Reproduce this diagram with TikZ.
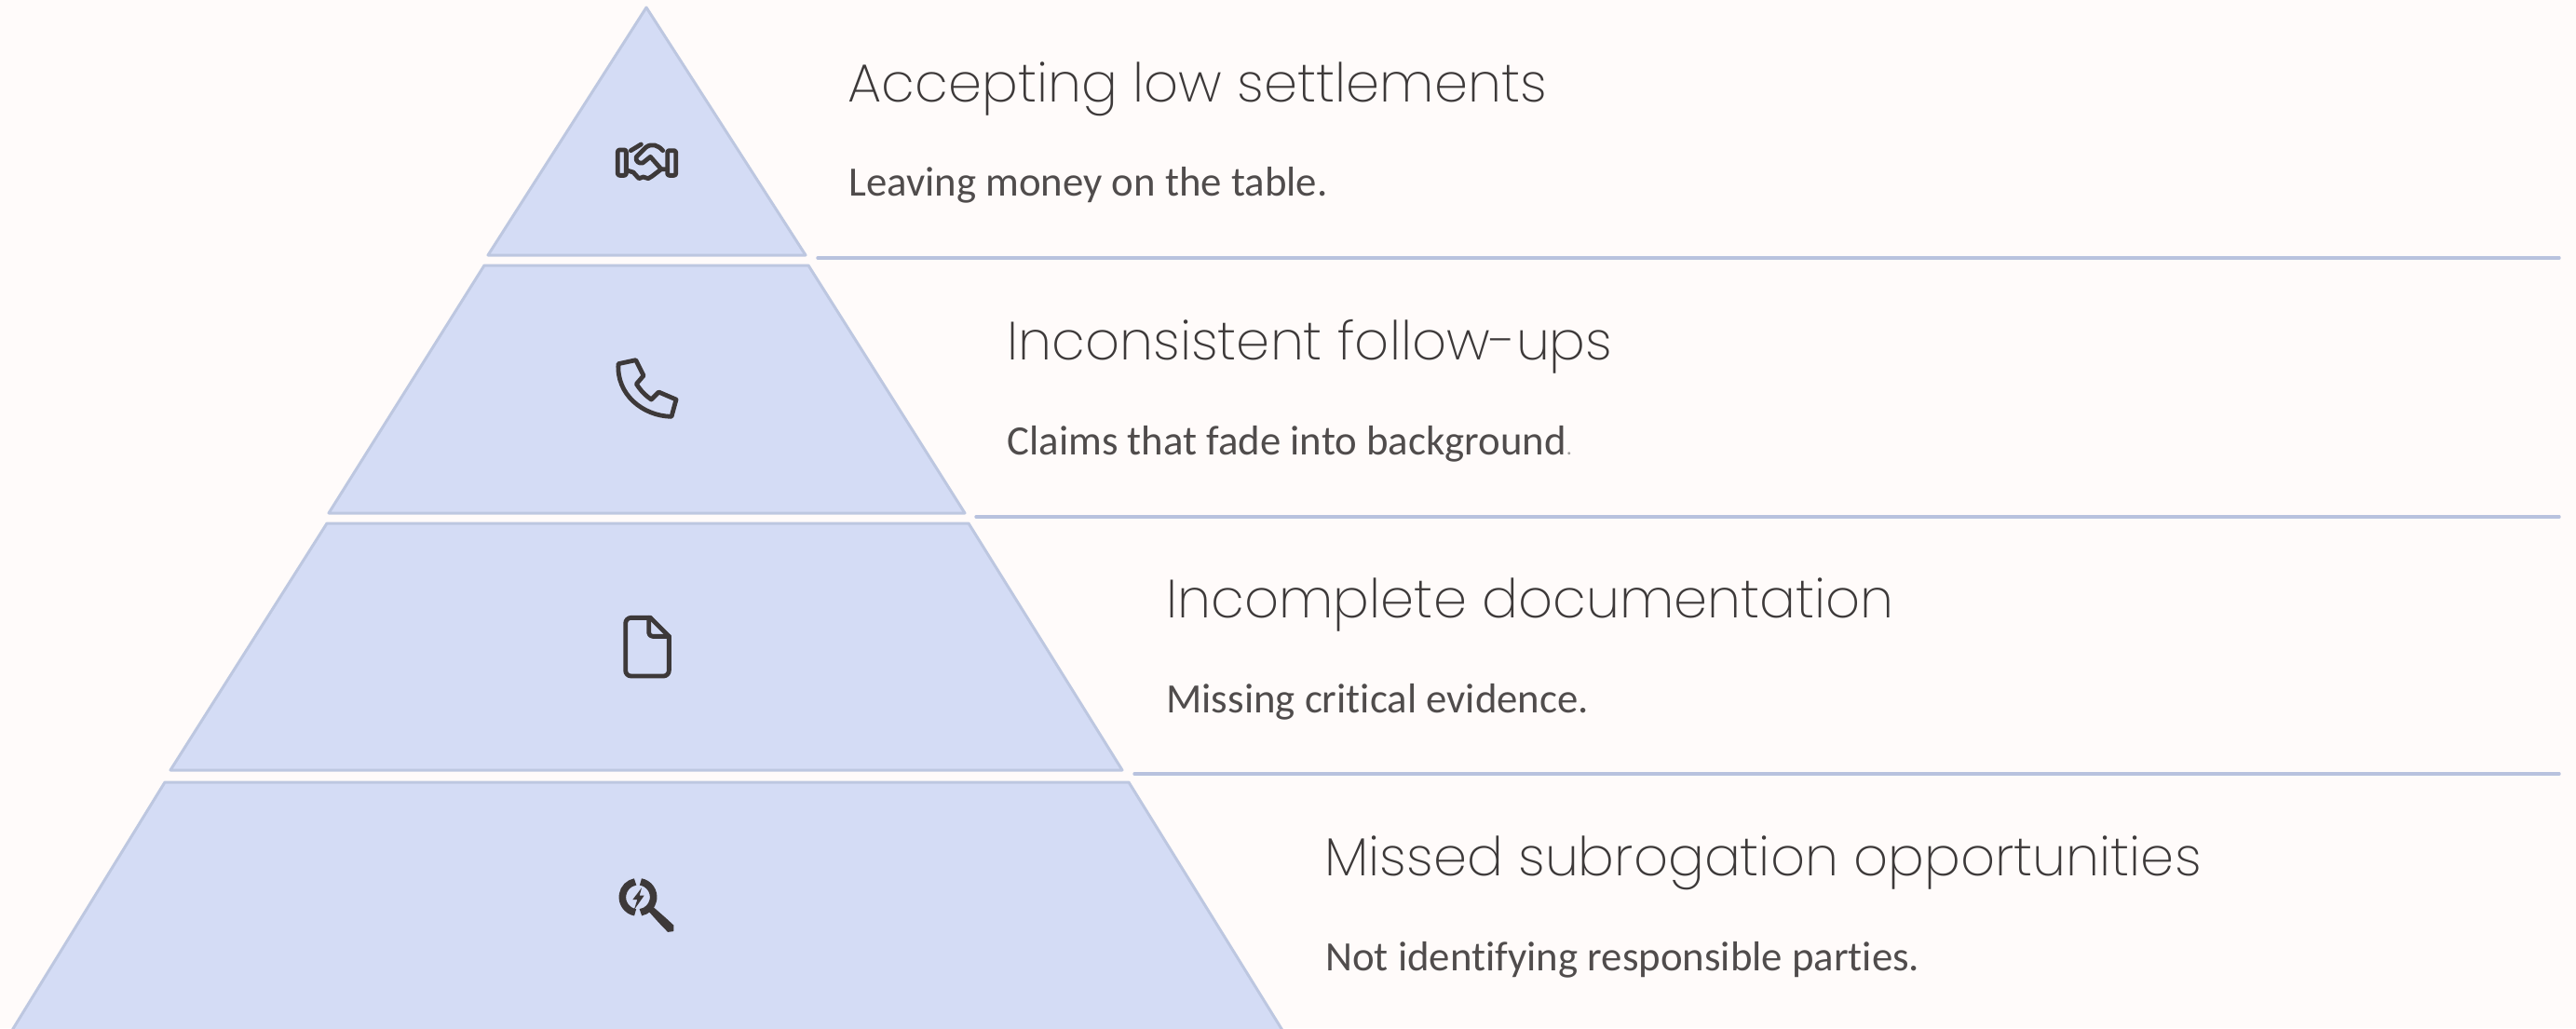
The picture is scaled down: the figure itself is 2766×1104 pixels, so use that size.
\documentclass[tikz,border=0pt]{standalone}
\usepackage{fontspec}
\setmainfont[Ligatures=NoCommon]{Carlito}
\newfontfamily\titlefont{Poppins ExtraLight}
\definecolor{bgc}{HTML}{FFFBFA}
\definecolor{tierfill}{HTML}{D4DCF5}
\definecolor{tierline}{HTML}{BDC7E0}
\definecolor{ruleline}{HTML}{B8C2DE}
\definecolor{inkc}{HTML}{3D3939}
\definecolor{bodyc}{HTML}{504C4C}
\tikzset{
  tier/.style={fill=tierfill,draw=tierline,line width=1.5pt,line join=round},
  rule/.style={draw=ruleline,line width=1.7pt,line cap=round},
  titletext/.style={anchor=base west,inner sep=0pt,text=inkc,font=\titlefont\fontsize{28.85}{34}\selectfont},
  bodytext/.style={anchor=base west,inner sep=0pt,text=bodyc,font=\fontsize{22.4}{27}\selectfont},
  icon/.style={draw=inkc,line width=2.4pt,line cap=round,line join=round,fill=none},
}
\begin{document}
\begin{tikzpicture}[x=0.5pt,y=-0.5pt]
\useasboundingbox (0,0) rectangle (2766,1104);
\fill[bgc] (0,0) rectangle (2766,1104);
\draw[tier] (694,8) -- (865,274) -- (524,274) -- cycle;
\draw[tier] (520,285) -- (868,285) -- (1036,551) -- (353,551) -- cycle;
\draw[tier] (351,562) -- (1040,562) -- (1205,827) -- (183,827) -- cycle;
\begin{scope}
\clip (0,0) rectangle (2766,1104);
\draw[tier] (177,840) -- (1212,840) -- (1378,1108) -- (12,1108) -- cycle;
\end{scope}
\coordinate (r1a) at (878,277); \coordinate (r1b) at (2748,277);
\coordinate (r2a) at (1048,555); \coordinate (r2b) at (2748,555);
\coordinate (r3a) at (1218,831); \coordinate (r3b) at (2748,831);
\draw[rule] (r1a) -- (r1b);
\draw[rule] (r2a) -- (r2b);
\draw[rule] (r3a) -- (r3b);
\node[titletext] (t1) at (910,109) {Accepting low settlements};
\node[bodytext] (b1) at (911,210) {Leaving money on the table.};
\node[titletext] (t2) at (1081,386) {Inconsistent follow-ups};
\node[bodytext] (b2) at (1081,488) {Claims that fade into background{\color{inkc!50}\fontsize{12}{14}\selectfont.}};
\node[titletext] (t3) at (1252,663) {Incomplete documentation};
\node[bodytext] (b3) at (1252,765) {Missing critical evidence.};
\node[titletext] (t4) at (1422,940) {Missed subrogation opportunities};
\node[bodytext] (b4) at (1423,1042) {Not identifying responsible parties.};
% handshake
\begin{scope}[shift={(640,140)},x=0.1667pt,y=-0.1667pt]
\draw[icon,rounded corners=1pt] (70,63) rectangle (97,145);
\draw[icon,rounded corners=1pt] (230,65) rectangle (257,145);
\draw[icon] (97,128) -- (120,135) -- (138,155) -- (152,150) -- (168,155) -- (180,148) -- (210,125) -- (230,125);
\draw[icon] (112,65) -- (145,45);
\draw[icon] (215,65) .. controls (200,48) and (180,40) .. (160,55) -- (130,85) .. controls (125,100) and (140,108) .. (150,105) -- (175,85) -- (210,125);
\end{scope}
% phone
\begin{scope}[shift={(620,360)},x=0.1667pt,y=-0.1667pt]
\draw[icon] (132,92) -- (188,80) -- (213,130) -- (190,157) .. controls (205,180) and (220,195) .. (238,207) -- (262,183) -- (318,207) -- (303,262) .. controls (210,260) and (125,190) .. cycle;
\end{scope}
% file
\begin{scope}[shift={(640,640)},x=0.1667pt,y=-0.1667pt]
\draw[icon,rounded corners=3pt] (175,70) -- (95,70) -- (95,258) -- (235,258) -- (235,130);
\draw[icon] (175,70) -- (235,130);
\draw[icon,rounded corners=2pt] (170,70) -- (170,130) -- (235,130);
\end{scope}
% search with bolt
\begin{scope}[shift={(640,930)},x=0.1667pt,y=-0.1667pt]
\draw[icon,line width=3.8pt,line cap=butt] (135,100) ++(100:50) arc (100:260:50);
\draw[icon,line width=3.8pt,line cap=butt] (135,100) ++(-80:50) arc (-80:80:50);
\fill[inkc] (147,70) -- (118,108) -- (133,108) -- (122,142) -- (155,95) -- (140,95) -- cycle;
\fill[inkc,draw=inkc,line join=round,line width=0.8pt] (170,143) -- (182,133) -- (222,168) -- (248,192) -- (248,208) -- (232,210) -- (205,182) -- cycle;
\end{scope}
\end{tikzpicture}
\end{document}
